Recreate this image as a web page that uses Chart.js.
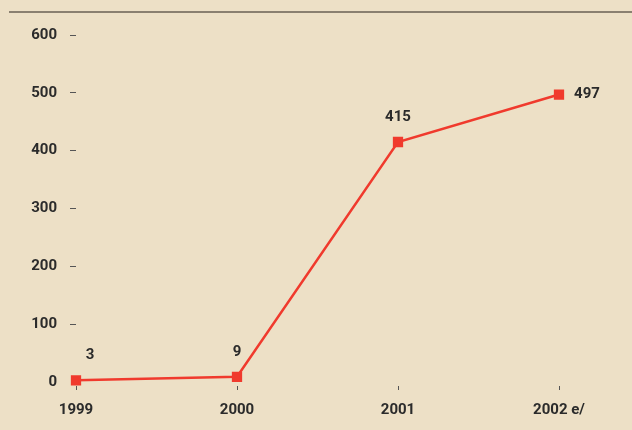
<!DOCTYPE html>
<html>
<head>
<meta charset="utf-8">
<script src="https://cdn.jsdelivr.net/npm/chart.js@4/dist/chart.umd.min.js"></script>
<style>
  html, body { margin: 0; padding: 0; background: #ede0c6; }
  #wrap { position: relative; width: 632px; height: 430px; }
  #rule { position: absolute; left: 9px; right: 0; top: 11px; height: 2px; background: #8a8070; }
  canvas { position: absolute; left: 0; top: 0; }
</style>
</head>
<body>
<div id="wrap">
  <div id="rule"></div>
  <canvas id="myChart" width="632" height="430"></canvas>
</div>
<script>
// values
const years = ["1999", "2000", "2001", "2002 e/"];
const values = [3, 9, 415, 497];
const yTicks = [0, 100, 200, 300, 400, 500, 600];

const FONT = { family: "Roboto, 'DejaVu Sans Condensed', sans-serif", size: 15, weight: "bold" };
const TEXT = "#2b2b2b";
const RED = "#f03a2d";

// value labels next to each point
const pointLabels = {
  id: "pointLabels",
  afterDatasetsDraw(chart) {
    const ctx = chart.ctx;
    const meta = chart.getDatasetMeta(0);
    ctx.save();
    ctx.font = `${FONT.weight} ${FONT.size}px ${FONT.family}`;
    ctx.fillStyle = TEXT;
    ctx.textBaseline = "middle";
    ctx.textAlign = "center";
    meta.data.forEach((pt, i) => {
      const last = i === meta.data.length - 1;
      let x = pt.x, y = pt.y - 25;
      if (i === 0) x += 14;
      if (last) { x += 28; y = pt.y; }
      ctx.fillText(String(values[i]), x, y);
    });
    ctx.restore();
  },
};

const ctx = document.getElementById("myChart").getContext("2d");
const myChart = new Chart(ctx, {
  type: "line",
  data: {
    labels: years,
    datasets: [
      {
        data: values,
        borderColor: RED,
        backgroundColor: RED,
        borderWidth: 2.5,
        pointStyle: "rect",
        pointRadius: 5.5,
        pointHoverRadius: 5.5,
        fill: false,
        tension: 0,
        clip: false,
      },
    ],
  },
  options: {
    responsive: false,
    animation: false,
    layout: { padding: { left: 0, right: 73, top: 35, bottom: 0 } },
    plugins: { legend: { display: false }, tooltip: { enabled: false } },
    scales: {
      x: {
        offset: false,
        border: { display: false },
        grid: {
          drawOnChartArea: false,
          tickLength: 8,
          tickColor: "#555",
          tickWidth: 1,
          tickBorderDash: [0, 4, 4, 0],
        },
        ticks: { color: TEXT, font: FONT, padding: 11, maxRotation: 0 },
        afterFit: (scale) => { scale.height = 48; },
      },
      y: {
        min: 0,
        max: 600,
        border: { display: false },
        afterBuildTicks: (scale) => { scale.ticks = yTicks.map((v) => ({ value: v })); },
        grid: {
          drawOnChartArea: false,
          tickLength: 6,
          tickWidth: 1,
          tickColor: (c) => (c.tick && c.tick.value === 0 ? "rgba(0,0,0,0)" : "#555"),
        },
        ticks: { color: TEXT, font: FONT, padding: 13 },
        afterFit: (scale) => { scale.width = 76; },
      },
    },
  },
  plugins: [pointLabels],
});
</script>
</body>
</html>
